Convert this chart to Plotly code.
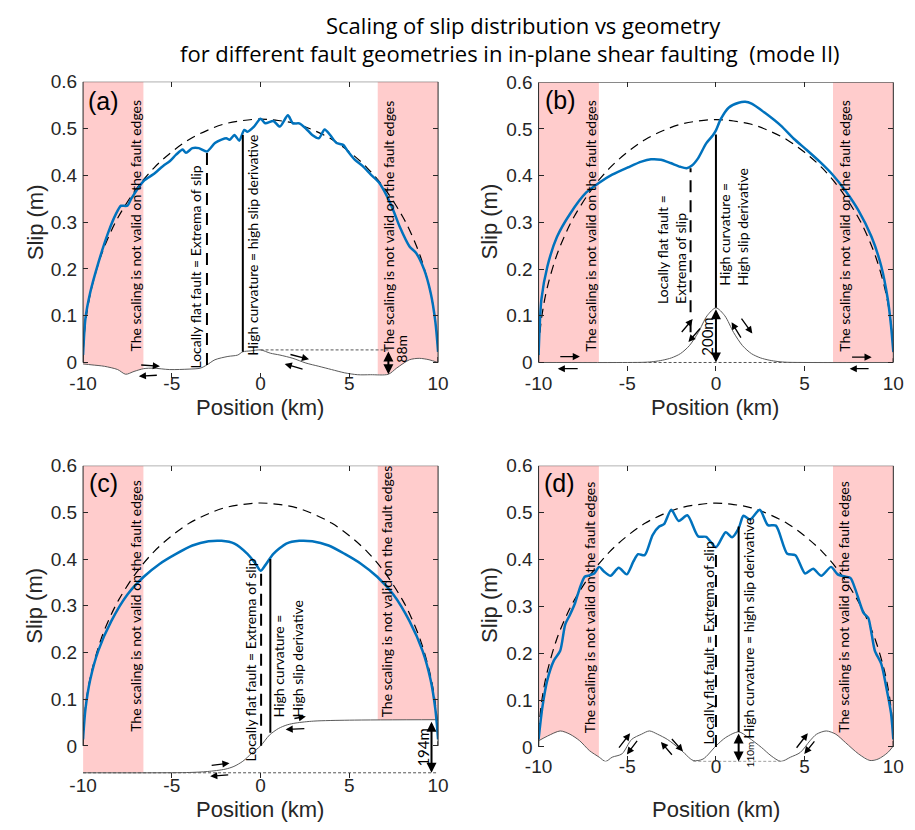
import numpy as np
import plotly.graph_objects as go

# ---------------- data ----------------
ELL_X = [-10, -9.98, -9.9, -9.75, -9.5, -9.0, -8.5, -8.0, -7.0, -6.0, -5.0, -4.0, -3.0, -2.0, -1.0, 0.0,
         1.0, 2.0, 3.0, 4.0, 5.0, 6.0, 7.0, 8.0, 8.5, 9.0, 9.5, 9.75, 9.9, 9.98, 10]
ELL_Y = [0.0, 0.033, 0.073, 0.115, 0.162, 0.227, 0.274, 0.312, 0.371, 0.416, 0.450, 0.477, 0.496, 0.510, 0.517, 0.520,
         0.517, 0.510, 0.496, 0.477, 0.450, 0.416, 0.371, 0.312, 0.274, 0.227, 0.162, 0.115, 0.073, 0.033, 0.0]

# panel (a)
A_SLIP_X = [-10, -9.87, -9.6, -9.14, -8.6, -8.14, -7.86, -7.77, -7.5, -7.3, -6.58, -6.04, -5.49, -5.12, -4.76,
            -4.39, -4.2, -3.84, -3.48, -3.02, -2.57, -2.2, -1.93, -1.74, -1.47, -1.2, -0.92, -0.74, -0.37, 0.0,
            0.27, 0.72, 1.09, 1.54, 1.82, 2.18, 2.55, 2.91, 3.28, 3.61, 3.92, 4.28, 4.65, 4.92, 5.29, 5.74,
            6.2, 6.66, 7.11, 7.48, 7.84, 8.39, 8.76, 9.21, 9.58, 9.85, 10]
A_SLIP_Y = [0.016, 0.093, 0.149, 0.213, 0.276, 0.318, 0.335, 0.335, 0.335, 0.349, 0.388, 0.402, 0.420, 0.430, 0.444,
            0.455, 0.448, 0.458, 0.458, 0.451, 0.469, 0.476, 0.479, 0.476, 0.486, 0.474, 0.497, 0.493, 0.504, 0.521,
            0.511, 0.516, 0.504, 0.528, 0.511, 0.511, 0.500, 0.486, 0.479, 0.498, 0.486, 0.469, 0.465, 0.451, 0.434, 0.420,
            0.402, 0.385, 0.356, 0.325, 0.290, 0.248, 0.234, 0.199, 0.149, 0.086, 0.023]
A_GEOM_X = [-10, -9.5, -8.8, -8.05, -7.6, -7.13, -6.58, -6.04, -5.12, -4.03, -3.39, -3.02, -2.57, -1.84, -1.29,
            -1.0, -0.55, 0.0, 0.55, 1.09, 1.82, 2.55, 3.28, 4.0, 4.74, 5.47, 6.2, 7.2, 7.66, 8.39, 8.94, 9.49, 10]
A_GEOM_Y = [-0.003, -0.005, -0.008, -0.015, -0.025, -0.019, -0.013, -0.012, -0.015, -0.014, -0.012, -0.005, 0.006,
            0.013, 0.016, 0.023, 0.025, 0.027, 0.020, 0.016, 0.009, -0.001, -0.008, -0.015, -0.022, -0.026, -0.026,
            -0.025, -0.012, 0.006, 0.009, 0.006, 0.0]

# panel (b)
B_SLIP_X = [-10, -9.84, -9.5, -8.96, -8.23, -7.31, -6.58, -5.85, -4.94, -4.2, -3.66, -3.11, -2.56, -2.01, -1.65,
            -1.37, -1.01, -0.55, -0.18, 0.0, 0.27, 0.73, 1.28, 1.65, 2.01, 2.74, 3.66, 4.39, 5.12, 5.85, 6.58,
            7.31, 8.04, 8.77, 9.32, 9.69, 9.87, 10]
B_SLIP_Y = [0.016, 0.135, 0.206, 0.269, 0.318, 0.364, 0.385, 0.402, 0.418, 0.430, 0.435, 0.434, 0.427, 0.419, 0.416,
            0.421, 0.437, 0.469, 0.486, 0.497, 0.521, 0.546, 0.556, 0.558, 0.554, 0.535, 0.507, 0.479, 0.455, 0.430,
            0.402, 0.367, 0.325, 0.269, 0.206, 0.135, 0.079, 0.023]
B_GEOM_X = [-10, -5, -4, -3.5, -3, -2.5, -2, -1.5, -1, -0.5, 0, 0.5, 1, 1.5, 2, 2.5, 3, 3.5, 4, 5, 10]
B_GEOM_Y = [0, 0, 0.0005, 0.002, 0.005, 0.010, 0.019, 0.036, 0.064, 0.100, 0.117, 0.100, 0.064, 0.036, 0.019,
            0.010, 0.005, 0.002, 0.0005, 0, 0]

# panel (c)
C_SLIP_X = [-10, -9.87, -9.6, -9.14, -8.41, -7.5, -6.58, -5.67, -4.76, -3.84, -2.93, -2.2, -1.47, -0.74, -0.28,
            0.0, 0.27, 0.72, 1.45, 2.18, 2.91, 3.83, 4.74, 5.65, 6.57, 7.48, 8.39, 9.12, 9.58, 9.85, 10]
C_SLIP_Y = [0.014, 0.077, 0.141, 0.204, 0.267, 0.324, 0.362, 0.390, 0.411, 0.429, 0.438, 0.439, 0.433, 0.411, 0.390,
            0.375, 0.387, 0.411, 0.433, 0.439, 0.438, 0.429, 0.411, 0.390, 0.362, 0.324, 0.267, 0.204, 0.141, 0.077, 0.014]
C_GEOM_X = [-10, -6, -4, -3, -2, -1.5, -1, -0.5, 0, 0.5, 1, 1.5, 2, 3, 5, 10]
C_GEOM_Y = [-0.0577, -0.0577, -0.057, -0.055, -0.050, -0.044, -0.033, -0.016, 0.0, 0.023, 0.037, 0.045, 0.049,
            0.053, 0.055, 0.056]

# panel (d)
D_SLIP_X = [-10, -9.78, -9.51, -9.14, -8.78, -8.5, -8.23, -7.95, -7.68, -7.4, -7.13, -6.86, -6.58, -6.31, -5.94,
            -5.48, -5.03, -4.66, -4.39, -4.02, -3.57, -3.2, -2.93, -2.52, -2.1, -1.61, -1.0, -0.55, 0.0, 0.55,
            0.91, 1.28, 1.55, 1.92, 2.47, 2.93, 3.38, 4.02, 4.48, 5.03, 5.48, 5.94, 6.49, 6.86, 7.31, 7.59,
            7.86, 8.32, 8.59, 8.78, 8.96, 9.32, 9.6, 9.87, 10]
D_SLIP_Y = [0.016, 0.086, 0.142, 0.184, 0.205, 0.261, 0.282, 0.306, 0.338, 0.363, 0.366, 0.370, 0.384, 0.374, 0.365,
            0.382, 0.368, 0.395, 0.411, 0.409, 0.452, 0.470, 0.475, 0.506, 0.482, 0.494, 0.449, 0.448, 0.426, 0.458,
            0.447, 0.466, 0.493, 0.485, 0.506, 0.473, 0.472, 0.412, 0.409, 0.370, 0.380, 0.365, 0.384, 0.368, 0.363,
            0.360, 0.336, 0.286, 0.275, 0.240, 0.205, 0.177, 0.128, 0.072, 0.016]
D_GEOM_X = [-10, -9.5, -8.78, -8.23, -7.68, -7.13, -6.58, -6.22, -5.85, -5.3, -4.75, -4.2, -3.75, -3.29, -2.74,
            -2.01, -1.28, -0.73, 0.0, 0.55, 1.28, 1.83, 2.56, 3.11, 3.66, 4.2, 4.75, 5.3, 5.67, 6.22, 6.76,
            7.31, 8.04, 8.68, 9.14, 9.69, 10]
D_GEOM_Y = [0.013, 0.023, 0.034, 0.027, 0.013, -0.008, -0.022, -0.031, -0.022, -0.015, 0.016, 0.027, 0.034, 0.027,
            0.016, -0.005, -0.029, -0.026, 0.002, 0.020, 0.032, 0.020, -0.001, -0.019, -0.031, -0.022, -0.012,
            0.013, 0.027, 0.034, 0.027, 0.009, -0.015, -0.029, -0.026, -0.012, 0.002]

EDGE_ZONE = 6.6          # |x| beyond which the scaling is not valid
XTICKS = [-10, -5, 0, 5, 10]
XTICK_TEXT = ['-10', '-5', '0', '5', '10']
YTICKS = [0, 0.1, 0.2, 0.3, 0.4, 0.5, 0.6]
YTICK_TEXT = ['0', '0.1', '0.2', '0.3', '0.4', '0.5', '0.6']

PANELS = {
    'a': dict(slip=(A_SLIP_X, A_SLIP_Y), geom=(A_GEOM_X, A_GEOM_Y), ymin=-0.032,
              vdash=(-3.02, -0.005, 0.451), vsolid=(-1.0, 0.023, 0.486), href=(0.0, 7.2, 0.027),
              dbl=(7.2, 0.027, -0.025), dbl_text='88m', dbl_text_pos=(7.92, 0.030), dbl_fs=14,
              arrows=[(-6.81, -0.005, -5.67, -0.008), (-5.76, -0.027, -6.86, -0.029),
                      (1.6, 0.018, 2.73, 0.007), (2.45, -0.015, 1.36, -0.003)],
              flat_text='Locally flat fault = Extrema of slip', flat_pos=(-3.64, 0.205),
              curv_text='High curvature = high slip derivative', curv_pos=(-0.47, 0.25),
              edge_pos=[(-7.04, 0.292), (7.2, 0.292)], label='(a)', label_pos=(-8.85, 0.559)),
    'b': dict(slip=(B_SLIP_X, B_SLIP_Y), geom=(B_GEOM_X, B_GEOM_Y), ymin=-0.018,
              vdash=(-1.43, 0.065, 0.416), vsolid=(0.0, 0.117, 0.488), href=(-10, 10, 0.0),
              dbl=(0.0, 0.117, 0.0), dbl_text='200m', dbl_text_pos=(-0.48, 0.056), dbl_fs=15,
              arrows=[(-2.0, 0.062, -1.31, 0.093), (-0.82, 0.076, -1.55, 0.044),
                      (1.38, 0.097, 2.05, 0.062), (1.46, 0.050, 0.88, 0.086),
                      (-8.86, 0.0126, -7.67, 0.0126), (-7.71, -0.0133, -8.92, -0.0133),
                      (7.59, 0.0114, 8.78, 0.0114), (8.69, -0.0133, 7.54, -0.0133)],
              flat_text='Locally flat fault =<br>Extrema of slip', flat_pos=(-2.51, 0.242),
              curv_text='High curvature =<br>High slip derivative', curv_pos=(0.94, 0.29),
              edge_pos=[(-7.12, 0.292), (7.2, 0.292)], label='(b)', label_pos=(-8.78, 0.561)),
    'c': dict(slip=(C_SLIP_X, C_SLIP_Y), geom=(C_GEOM_X, C_GEOM_Y), ymin=-0.068,
              vdash=(0.03, 0.0, 0.375), vsolid=(0.55, 0.028, 0.40), href=(-10, 10, -0.0577),
              dbl=(9.63, 0.055, -0.0577), dbl_text='194m', dbl_text_pos=(9.17, -0.003), dbl_fs=15,
              arrows=[(-2.84, -0.042, -1.75, -0.037), (-1.74, -0.062, -2.84, -0.065),
                      (1.82, 0.058, 2.55, 0.063), (2.55, 0.037, 1.41, 0.035)],
              flat_text='Locally flat fault = Extrema of slip', flat_pos=(-0.59, 0.183),
              curv_text='High curvature =<br>High slip derivative', curv_pos=(1.54, 0.187),
              edge_pos=[(-7.04, 0.299), (7.1, 0.33)], label='(c)', label_pos=(-8.85, 0.563)),
    'd': dict(slip=(D_SLIP_X, D_SLIP_Y), geom=(D_GEOM_X, D_GEOM_Y), ymin=-0.031,
              vdash=(0.0, 0.0, 0.426), vsolid=(1.28, 0.032, 0.47), href=(-1.28, 3.66, -0.031),
              dbl=(1.28, 0.032, -0.031), dbl_text='110m', dbl_text_pos=(1.92, -0.016), dbl_fs=10,
              arrows=[(-5.53, -0.005, -4.84, 0.029), (-4.38, 0.016, -5.02, -0.016),
                      (-2.56, 0.020, -1.86, -0.010), (-2.41, -0.020, -3.1, 0.0105),
                      (4.48, -0.005, 5.18, 0.029), (5.62, 0.015, 4.98, -0.015)],
              flat_text='Locally flat fault = Extrema of slip', flat_pos=(-0.44, 0.221),
              curv_text='High curvature = high slip derivative', curv_pos=(1.83, 0.253),
              edge_pos=[(-7.13, 0.299), (7.22, 0.299)], label='(d)', label_pos=(-8.81, 0.563)),
}

# ---------------- layout geometry ----------------
W, H = 915, 830
XDOM = {'a': [0.0776, 0.4765], 'b': [0.5894, 0.988], 'c': [0.0776, 0.4765], 'd': [0.5894, 0.988]}
YDOM = {'a': [0.5507, 0.9124], 'b': [0.5588, 0.9117], 'c': [0.0616, 0.443], 'd': [0.0814, 0.443]}
AXID = {'a': '', 'b': '2', 'c': '3', 'd': '4'}
XLAB_STANDOFF = {'a': -8, 'b': -1, 'c': -6, 'd': -8}

PINK = 'rgb(255,204,204)'
BLUE = '#0072BD'
TXT = '#262626'
ANN_FONT = 'Lato'

fig = go.Figure()
annotations = []
shapes = []

for key, P in PANELS.items():
    ax = AXID[key]
    xr, yr = 'x' + ax, 'y' + ax
    gx, gy = np.array(P['geom'][0], float), np.array(P['geom'][1], float)

    for side in (-1, 1):
        if side < 0:
            m = gx <= -EDGE_ZONE
            px = list(gx[m]) + [-EDGE_ZONE, -EDGE_ZONE, gx[0]]
            py = list(gy[m]) + [float(np.interp(-EDGE_ZONE, gx, gy)), YTICKS[-1], YTICKS[-1]]
        else:
            m = gx >= EDGE_ZONE
            px = [EDGE_ZONE] + list(gx[m]) + [gx[-1], EDGE_ZONE]
            py = [float(np.interp(EDGE_ZONE, gx, gy))] + list(gy[m]) + [YTICKS[-1], YTICKS[-1]]
        fig.add_trace(go.Scatter(x=px, y=py, fill='toself', fillcolor=PINK, mode='none',
                                 xaxis=xr, yaxis=yr, showlegend=False, hoverinfo='skip'))

    fig.add_trace(go.Scatter(x=ELL_X, y=ELL_Y, mode='lines', line=dict(color='black', width=1.2, dash='9px,6px',
                             shape='spline'), xaxis=xr, yaxis=yr, showlegend=False))
    hx0, hx1, hy = P['href']
    fig.add_trace(go.Scatter(x=[hx0, hx1], y=[hy, hy], mode='lines',
                             line=dict(color='#555555', width=1, dash='3px,2px'),
                             xaxis=xr, yaxis=yr, showlegend=False))
    fig.add_trace(go.Scatter(x=gx, y=gy, mode='lines', line=dict(color='#5a5a5a', width=1, shape='spline',
                             smoothing=0.8), xaxis=xr, yaxis=yr, showlegend=False))
    fig.add_trace(go.Scatter(x=P['slip'][0], y=P['slip'][1], mode='lines',
                             line=dict(color=BLUE, width=2.5, shape='spline', smoothing=0.7),
                             xaxis=xr, yaxis=yr, showlegend=False))
    vx, v0, v1 = P['vdash']
    fig.add_trace(go.Scatter(x=[vx, vx], y=[v0, v1], mode='lines', line=dict(color='black', width=2, dash='12px,8px'),
                             xaxis=xr, yaxis=yr, showlegend=False))
    sx, s0, s1 = P['vsolid']
    fig.add_trace(go.Scatter(x=[sx, sx], y=[s0, s1], mode='lines', line=dict(color='black', width=2),
                             xaxis=xr, yaxis=yr, showlegend=False))

    fig.update_layout(**{
        'xaxis' + ax: dict(domain=XDOM[key], range=[XTICKS[0], XTICKS[-1]], anchor=yr, tickvals=XTICKS,
                           ticktext=XTICK_TEXT, ticks='inside', ticklen=5, tickcolor=TXT, mirror='ticks',
                           showline=False, showgrid=False, zeroline=False, ticklabelstandoff=XLAB_STANDOFF[key],
                           tickfont=dict(family='Liberation Sans, Arial', size=19, color=TXT)),
        'yaxis' + ax: dict(domain=YDOM[key], range=[P['ymin'], YTICKS[-1]], anchor=xr, tickvals=YTICKS,
                           ticktext=YTICK_TEXT, ticks='inside', ticklen=5, tickcolor=TXT, mirror='ticks',
                           showline=False, showgrid=False, zeroline=False, ticklabelstandoff=5,
                           tickfont=dict(family='Liberation Sans, Arial', size=19, color=TXT)),
    })
    for xd in (0, 1):
        shapes.append(dict(type='line', xref=xr + ' domain', yref=yr, x0=xd, x1=xd, y0=YTICKS[0], y1=YTICKS[-1],
                           line=dict(color=TXT, width=1)))
    shapes.append(dict(type='line', xref=xr + ' domain', yref=yr, x0=0, x1=1, y0=YTICKS[-1], y1=YTICKS[-1],
                       line=dict(color=TXT, width=1)))

    def vtext(text, pos, size=14, align='left'):
        annotations.append(dict(x=pos[0], y=pos[1], xref=xr, yref=yr, text=text, showarrow=False, textangle=-90,
                                align=align, font=dict(family=ANN_FONT, size=size, color='black'),
                                xanchor='center', yanchor='middle'))
    vtext(P['flat_text'], P['flat_pos'])
    vtext(P['curv_text'], P['curv_pos'])
    for ep in P['edge_pos']:
        vtext('The scaling is not valid on the fault edges', ep)
    vtext(P['dbl_text'], P['dbl_text_pos'], size=P['dbl_fs'])
    annotations.append(dict(x=P['label_pos'][0], y=P['label_pos'][1], xref=xr, yref=yr, text=P['label'],
                            showarrow=False, font=dict(family='Liberation Sans, Arial', size=25, color='black'),
                            xanchor='center', yanchor='middle'))
    dx, d0, d1 = P['dbl']
    annotations.append(dict(x=dx, y=d1, ax=dx, ay=d0, xref=xr, yref=yr, axref=xr, ayref=yr, text='',
                            showarrow=True, arrowhead=2, arrowside='end+start', arrowsize=1, arrowwidth=2,
                            arrowcolor='black', standoff=0, startstandoff=0))
    for (tx, ty, hx, hy2) in P['arrows']:
        annotations.append(dict(x=hx, y=hy2, ax=tx, ay=ty, xref=xr, yref=yr, axref=xr, ayref=yr, text='',
                                showarrow=True, arrowhead=2, arrowsize=1.1, arrowwidth=1.3, arrowcolor='black',
                                standoff=0))

def ptext(text, px, py, size, angle=0, family='Liberation Sans, Arial', color=TXT):
    annotations.append(dict(x=px / W, y=1 - py / H, xref='paper', yref='paper', text=text, showarrow=False,
                            textangle=angle, font=dict(family=family, size=size, color=color),
                            xanchor='center', yanchor='middle'))

for (px, py) in [(22, 215), (489, 215), (21, 604), (489, 604)]:
    ptext('Slip (m)', px, py, 22, angle=-90)
for (px, py) in [(253, 403), (721, 403), (253, 811), (722, 811)]:
    ptext('Position (km)', px, py, 22)
ptext('Scaling of slip distribution vs geometry', 524, 15, 22, family='Open Sans', color='black')
ptext('for different fault geometries in in-plane shear faulting&nbsp; (mode II)', 510, 44, 22,
      family='Open Sans', color='black')

fig.update_layout(width=W, height=H, margin=dict(l=0, r=0, t=0, b=0), paper_bgcolor='white',
                  plot_bgcolor='white', showlegend=False, annotations=annotations, shapes=shapes)

fig.write_html('out.html')
